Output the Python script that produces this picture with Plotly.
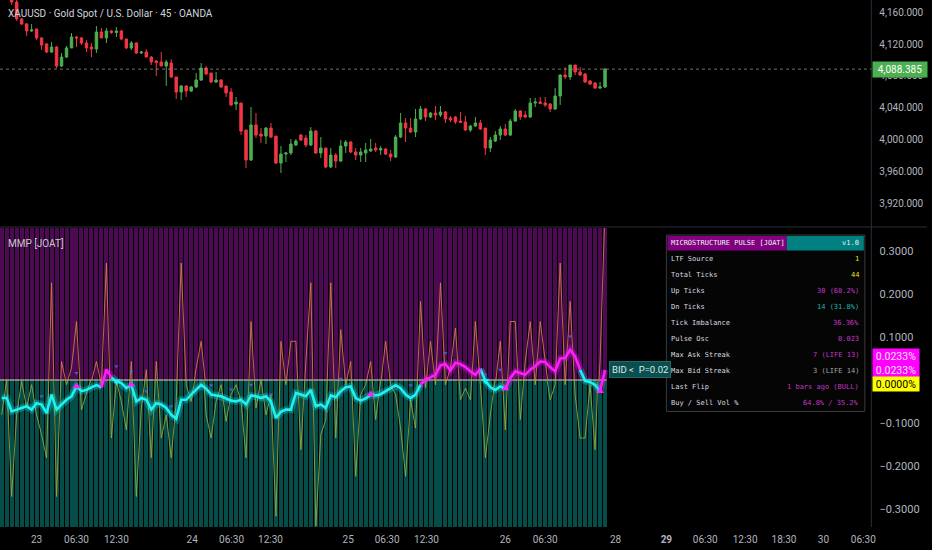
import plotly.graph_objects as go

W, H = 932, 550

# ---- bars (45m XAUUSD, OANDA) ----
bar_idx = list(range(122))
candle_idx = bar_idx[2:]

candle_open = [
    4182.9, 4172.8, 4151.5, 4145.2, 4136.4, 4138.9, 4127.6, 4120.0, 4109.9, 4116.2,
    4092.3, 4103.6, 4115.0, 4128.8, 4127.6, 4121.3, 4116.2, 4113.7, 4135.1, 4127.6,
    4136.4, 4134.5, 4136.4, 4126.3, 4115.0, 4121.3, 4108.7, 4109.9, 4103.6, 4098.6,
    4097.4, 4092.3, 4096.1, 4078.5, 4059.6, 4067.2, 4060.9, 4065.9, 4074.7, 4089.8,
    4083.5, 4072.2, 4074.7, 4067.2, 4059.6, 4044.5, 4045.8, 4011.8, 3974.1, 4018.1,
    4006.8, 4004.2, 4014.3, 4004.2, 3970.3, 3981.6, 3982.9, 3992.9, 4005.5, 4001.7,
    3992.9, 4010.5, 3982.9, 3989.2, 3965.3, 3980.4, 3972.8, 3991.7, 3996.7, 3984.2,
    3980.4, 3982.9, 3985.4, 3989.2, 3986.7, 3987.9, 3981.6, 3977.9, 4003.0, 4020.6,
    4014.3, 4009.3, 4025.7, 4038.3, 4028.2, 4033.2, 4030.7, 4034.5, 4026.9, 4028.2,
    4023.1, 4021.9, 4011.8, 4016.8, 4020.6, 4014.3, 3989.2, 3998.0, 4005.5, 4013.1,
    4005.5, 4023.1, 4035.7, 4030.7, 4028.2, 4045.8, 4047.0, 4045.8, 4044.5, 4038.3,
    4054.6, 4081.0, 4078.5, 4093.6, 4084.8, 4082.3, 4073.5, 4070.9, 4064.6, 4065.9,
]
candle_high = [
    4187.9, 4175.4, 4152.7, 4146.4, 4145.2, 4138.9, 4128.8, 4121.3, 4122.5, 4117.5,
    4108.7, 4117.5, 4133.8, 4130.1, 4128.8, 4125.0, 4121.3, 4142.6, 4140.1, 4140.1,
    4137.6, 4141.4, 4137.6, 4126.3, 4123.8, 4122.5, 4111.2, 4113.7, 4104.9, 4099.9,
    4109.9, 4099.9, 4101.1, 4078.5, 4068.4, 4068.4, 4067.2, 4083.5, 4096.1, 4092.3,
    4083.5, 4084.8, 4076.0, 4067.2, 4064.6, 4053.3, 4045.8, 4011.8, 4040.8, 4033.2,
    4014.3, 4015.6, 4020.6, 4004.2, 3991.7, 3984.2, 4000.5, 4000.5, 4006.8, 4005.5,
    4015.6, 4011.8, 4003.0, 3989.2, 3989.2, 3982.9, 3999.2, 3999.2, 3998.0, 3989.2,
    3989.2, 3995.5, 4000.5, 3995.5, 3991.7, 3989.2, 3986.7, 4005.5, 4033.2, 4026.9,
    4026.9, 4038.3, 4042.0, 4039.5, 4034.5, 4042.0, 4042.0, 4035.7, 4029.4, 4029.4,
    4034.5, 4029.4, 4018.1, 4028.2, 4024.4, 4014.3, 4003.0, 4010.5, 4016.8, 4019.4,
    4025.7, 4038.3, 4037.0, 4035.7, 4052.1, 4052.1, 4053.3, 4053.3, 4045.8, 4064.6,
    4082.0, 4091.1, 4093.6, 4093.6, 4091.1, 4083.5, 4074.7, 4072.2, 4072.2, 4089.8,
]
candle_low = [
    4169.1, 4149.0, 4143.9, 4130.1, 4135.1, 4125.0, 4112.5, 4108.7, 4108.7, 4089.8,
    4091.1, 4102.4, 4115.0, 4116.2, 4118.7, 4109.9, 4103.6, 4108.7, 4127.6, 4121.3,
    4132.6, 4128.8, 4125.0, 4113.7, 4112.5, 4107.4, 4107.4, 4103.6, 4093.6, 4079.7,
    4092.3, 4067.2, 4077.2, 4050.8, 4049.6, 4053.3, 4059.6, 4064.6, 4073.5, 4081.0,
    4070.9, 4070.9, 4064.6, 4053.3, 4042.0, 4037.0, 4005.5, 3964.0, 3972.8, 4001.7,
    3995.5, 3994.2, 4001.7, 3969.1, 3957.7, 3971.6, 3980.4, 3991.7, 3998.0, 3990.4,
    3991.7, 3981.6, 3976.6, 3964.0, 3964.0, 3964.0, 3971.6, 3982.9, 3982.9, 3974.1,
    3971.6, 3971.6, 3984.2, 3984.2, 3980.4, 3980.4, 3972.8, 3976.6, 4001.7, 3996.7,
    4008.0, 4003.0, 4024.4, 4023.1, 4026.9, 4024.4, 4028.2, 4020.6, 4021.9, 4019.4,
    4020.6, 4010.5, 4009.3, 4015.6, 4011.8, 3980.4, 3984.2, 3996.7, 3999.2, 4004.2,
    4004.2, 4021.9, 4024.4, 4026.9, 4026.9, 4040.8, 4044.5, 4040.8, 4034.5, 4037.0,
    4043.3, 4076.0, 4074.7, 4081.0, 4079.7, 4070.9, 4068.4, 4063.4, 4063.4, 4064.6,
]
candle_close = [
    4172.8, 4151.5, 4145.2, 4136.4, 4137.6, 4127.6, 4118.7, 4109.9, 4116.2, 4092.3,
    4103.6, 4115.0, 4128.8, 4127.6, 4121.3, 4115.0, 4113.7, 4135.1, 4127.6, 4136.4,
    4134.5, 4136.4, 4126.3, 4115.0, 4121.3, 4108.7, 4109.9, 4103.6, 4097.4, 4096.7,
    4092.3, 4097.4, 4078.5, 4059.6, 4067.2, 4060.9, 4065.9, 4074.7, 4089.8, 4082.3,
    4072.2, 4074.7, 4065.9, 4058.4, 4043.3, 4047.0, 4010.5, 3974.1, 4018.1, 4005.5,
    4004.2, 4014.3, 4003.0, 3970.3, 3981.6, 3982.9, 3994.2, 3998.0, 3999.2, 3992.9,
    4010.5, 3982.9, 3989.2, 3965.3, 3980.4, 3972.8, 3991.7, 3996.7, 3984.2, 3980.4,
    3984.2, 3986.7, 3987.9, 3986.7, 3988.5, 3981.6, 3977.9, 4003.0, 4020.6, 4014.3,
    4009.3, 4025.7, 4038.3, 4028.2, 4033.2, 4030.7, 4034.5, 4025.7, 4024.4, 4021.9,
    4021.3, 4011.8, 4016.8, 4020.6, 4013.1, 3989.2, 3999.2, 4005.5, 4013.1, 4005.5,
    4023.1, 4035.7, 4028.2, 4028.2, 4045.8, 4047.0, 4045.2, 4043.3, 4038.3, 4054.6,
    4081.0, 4078.5, 4093.6, 4084.8, 4081.0, 4072.2, 4069.7, 4064.6, 4065.9, 4088.385,
]
last_price = 4088.385

# ---- MMP [JOAT] indicator, values in % ----
pulse_osc = [
    -0.042, -0.042, -0.073, -0.069, -0.065, -0.061, -0.069, -0.054, -0.057, -0.077,
    -0.034, -0.069, -0.057, -0.046, -0.038, -0.015, -0.026, -0.023, -0.017, -0.012,
    -0.017, 0.024, 0.006, -0.003, -0.007, -0.019, -0.011, -0.050, -0.042, -0.046,
    -0.069, -0.054, -0.057, -0.065, -0.081, -0.090, -0.046, -0.046, -0.034, -0.023,
    -0.011, -0.020, -0.034, -0.036, -0.038, -0.043, -0.048, -0.050, -0.046, -0.057,
    -0.036, -0.038, -0.042, -0.038, -0.050, -0.088, -0.074, -0.069, -0.069, -0.030,
    -0.034, -0.038, -0.023, -0.061, -0.057, -0.065, -0.036, -0.040, -0.026, -0.017,
    -0.015, -0.042, -0.048, -0.043, -0.034, -0.036, -0.033, -0.026, -0.020, -0.012,
    -0.019, -0.034, -0.042, -0.034, -0.011, 0.001, 0.006, 0.012, 0.034, 0.037,
    0.022, 0.040, 0.037, 0.030, 0.020, 0.012, 0.026, -0.002, -0.017, -0.023,
    -0.015, -0.020, 0.004, 0.020, 0.016, 0.012, 0.024, 0.032, 0.043, 0.042,
    0.030, 0.020, 0.050, 0.051, 0.070, 0.055, 0.024, -0.002, -0.005, -0.011,
    -0.026, 0.0233,
]
tick_raw = [
    -0.081, 0.001, -0.271, -0.081, -0.003, -0.065, -0.011, -0.081, -0.127, -0.181,
    0.226, -0.271, 0.043, -0.011, 0.028, 0.136, -0.069, -0.034, -0.003, 0.043,
    -0.011, 0.272, -0.135, -0.003, -0.050, -0.116, 0.043, -0.271, -0.065, 0.024,
    -0.181, 0.043, -0.135, -0.081, -0.181, -0.050, 0.272, -0.011, -0.050, 0.028,
    0.090, -0.081, -0.135, -0.050, -0.011, -0.096, -0.034, -0.011, -0.050, -0.181,
    0.136, -0.065, 0.001, -0.081, -0.034, -0.317, 0.090, -0.011, 0.090, 0.090,
    -0.162, 0.043, 0.226, -0.340, -0.127, -0.092, 0.226, -0.135, 0.117, -0.011,
    0.043, -0.224, -0.034, -0.011, 0.043, -0.092, -0.011, 0.090, -0.011, -0.034,
    -0.112, -0.224, -0.046, -0.112, 0.183, -0.019, 0.090, -0.011, 0.226, -0.011,
    0.028, 0.121, -0.046, -0.019, -0.046, 0.136, -0.011, -0.181, -0.081, -0.011,
    0.090, -0.116, 0.136, 0.136, -0.092, 0.043, 0.136, -0.011, 0.136, 0.028,
    -0.046, -0.011, 0.272, -0.011, 0.183, -0.034, -0.135, -0.135, -0.011, -0.162,
    0.043, 0.400,
]
flip_up_bars = [15, 26, 74, 101, 120]
flip_dn_bars = [23, 97]
streak_bars = [8, 15, 23, 26, 29, 34, 42, 46, 50, 54, 68, 82, 89, 97, 100, 114]
streak_vals = [-0.038, 0.016, 0.032, 0.019, -0.026, -0.061, -0.012, -0.022, -0.011,
               -0.034, 0.003, -0.012, 0.063, 0.012, 0.024, 0.102]

# ---- axes ----
time_tick_pos = [7.0, 15.0, 23.0, 38.2, 46.1, 53.9, 69.5, 77.3, 85.2, 101.0, 109.0,
                 123.1, 133.3, 141.1, 149.1, 156.9, 164.8, 172.8]
time_tick_text = ["23", "06:30", "12:30", "24", "06:30", "12:30", "25", "06:30", "12:30",
                  "26", "06:30", "28", "<b>29</b>", "06:30", "12:30", "18:30", "30", "06:30"]
price_ticks = [3920, 3960, 4000, 4040, 4080, 4120, 4160]
osc_ticks = [-0.3, -0.2, -0.1, 0.1, 0.2, 0.3]

# ---- info table ----
table_labels = ["LTF Source", "Total Ticks", "Up Ticks", "Dn Ticks", "Tick Imbalance",
                "Pulse Osc", "Max Ask Streak", "Max Bid Streak", "Last Flip", "Buy / Sell Vol %"]
table_values = ["1", "44", "30 (68.2%)", "14 (31.8%)", "36.36%", "0.023",
                "7 (LIFE 13)", "3 (LIFE 14)", "1 bars ago (BULL)", "64.8% / 35.2%"]
table_colors = ["#e6e619", "#e6e619", "#c238c2", "#27b3b3", "#c238c2", "#c238c2",
                "#c238c2", "#a3a3a3", "#c238c2", "#c238c2"]

MAGENTA = "#ff1cff"
CYAN = "#1cf2f2"
TXT = "#b2b5be"
FONT = "Roboto"
MONO = "DejaVu Sans Mono"


def px_x(x):
    return x / W


def px_y(y):
    return 1 - y / H


def runs_by_sign(xs, ys):
    """Split the line into runs; a segment takes the colour of its end point."""
    runs = []
    for i in range(1, len(xs)):
        up = ys[i] > 0
        if runs and runs[-1][0] == up:
            runs[-1][1].append(xs[i])
            runs[-1][2].append(ys[i])
        else:
            runs.append([up, [xs[i - 1], xs[i]], [ys[i - 1], ys[i]]])
    out = {True: ([], []), False: ([], [])}
    for up, rx, ry in runs:
        out[up][0].extend(rx + [None])
        out[up][1].extend(ry + [None])
    return out


x_range = [-0.34, 174.4]
price_range = [3891.1, 4175.35]
osc_top = (380 - 228) / 430
osc_bot = (380 - 527) / 430

fig = go.Figure()

fig.add_trace(go.Candlestick(
    x=candle_idx, open=candle_open, high=candle_high, low=candle_low, close=candle_close,
    increasing=dict(line=dict(color="#4caf50", width=1), fillcolor="#4caf50"),
    decreasing=dict(line=dict(color="#f23645", width=1), fillcolor="#f23645"),
    whiskerwidth=0, xaxis="x", yaxis="y", hoverinfo="skip",
))

# background columns of the oscillator pane
n = len(bar_idx)
fig.add_trace(go.Bar(x=bar_idx, y=[0.4] * n, base=0, width=0.8, marker=dict(color="#4c0a52", line=dict(width=0)),
                     xaxis="x2", yaxis="y2", hoverinfo="skip"))
fig.add_trace(go.Bar(x=bar_idx, y=[-0.4] * n, base=0, width=0.8, marker=dict(color="#064d4a", line=dict(width=0)),
                     xaxis="x2", yaxis="y2", hoverinfo="skip"))
fig.add_trace(go.Scatter(x=[bar_idx[0] - 0.5, bar_idx[-1] + 0.3], y=[0, 0], mode="lines",
                         line=dict(color="rgba(240,240,190,0.9)", width=1.2), xaxis="x2", yaxis="y2", hoverinfo="skip"))

# raw tick line, orange above zero, olive below (clipped by two half panes)
fig.add_trace(go.Scatter(x=bar_idx, y=tick_raw, mode="lines", line=dict(color="rgba(214,128,62,0.85)", width=1),
                         xaxis="x2", yaxis="y3", hoverinfo="skip"))
fig.add_trace(go.Scatter(x=bar_idx, y=tick_raw, mode="lines", line=dict(color="rgba(150,172,58,0.85)", width=1),
                         xaxis="x2", yaxis="y4", hoverinfo="skip"))

# pulse oscillator with glow
runs = runs_by_sign(bar_idx, pulse_osc)
for up, col, glow in [(False, CYAN, "rgba(28,242,242,0.28)"), (True, MAGENTA, "rgba(255,28,255,0.28)")]:
    fig.add_trace(go.Scatter(x=runs[up][0], y=runs[up][1], mode="lines", line=dict(color=glow, width=7),
                             xaxis="x2", yaxis="y5", hoverinfo="skip"))
    fig.add_trace(go.Scatter(x=runs[up][0], y=runs[up][1], mode="lines", line=dict(color=col, width=2.6),
                             xaxis="x2", yaxis="y5", hoverinfo="skip"))

fig.add_trace(go.Scatter(x=streak_bars, y=streak_vals, mode="markers",
                         marker=dict(symbol="triangle-down", size=4, color="rgba(90,100,235,0.75)"),
                         xaxis="x2", yaxis="y5", hoverinfo="skip"))
fig.add_trace(go.Scatter(x=flip_up_bars, y=[pulse_osc[i] for i in flip_up_bars], mode="markers",
                         marker=dict(symbol="triangle-up", size=7, color=MAGENTA),
                         xaxis="x2", yaxis="y5", hoverinfo="skip"))
fig.add_trace(go.Scatter(x=flip_dn_bars, y=[pulse_osc[i] for i in flip_dn_bars], mode="markers",
                         marker=dict(symbol="triangle-down", size=7, color=CYAN),
                         xaxis="x2", yaxis="y5", hoverinfo="skip"))

dom_x = [0, px_x(876)]
price_dom = [px_y(226), 1]
osc_dom = [px_y(527), px_y(228)]
zero_y = px_y(380)
hidden = dict(showticklabels=False, showgrid=False, zeroline=False, ticks="", showline=False)
# invisible ticks push the scale labels away from the pane edge
scale_ticks = dict(ticks="outside", ticklen=5, tickcolor="rgba(0,0,0,0)", showgrid=False, zeroline=False)

fig.update_layout(
    width=W, height=H, autosize=False,
    margin=dict(l=0, r=0, t=0, b=0),
    paper_bgcolor="#000000", plot_bgcolor="rgba(0,0,0,0)",
    showlegend=False, barmode="overlay", bargap=0,
    font=dict(family=FONT, size=10, color=TXT),
    xaxis=dict(domain=dom_x, range=x_range, anchor="y", rangeslider=dict(visible=False), **hidden),
    yaxis=dict(domain=price_dom, range=price_range, anchor="x", side="right", tickvals=price_ticks,
               tickformat=",.3f", tickfont=dict(size=10, color=TXT), **scale_ticks),
    xaxis2=dict(domain=dom_x, range=x_range, anchor="y2", tickvals=time_tick_pos, ticktext=time_tick_text,
                showgrid=False, zeroline=False, ticks="outside", ticklen=3, tickcolor="rgba(0,0,0,0)",
                showline=False, tickfont=dict(size=10, color=TXT)),
    yaxis2=dict(domain=osc_dom, range=[osc_bot, osc_top], anchor="x2", side="right", tickvals=osc_ticks,
                tickformat=".4f", ticksuffix="%", tickfont=dict(size=11, color=TXT), **scale_ticks),
    yaxis3=dict(domain=[zero_y, osc_dom[1]], range=[0, osc_top], anchor="x2", **hidden),
    yaxis4=dict(domain=[osc_dom[0], zero_y], range=[osc_bot, 0], anchor="x2", **hidden),
    yaxis5=dict(domain=osc_dom, range=[osc_bot, osc_top], anchor="x2", **hidden),
)

shapes = [
    dict(type="line", xref="paper", yref="paper", x0=0, x1=1, y0=px_y(227), y1=px_y(227),
         line=dict(color="#2a2e39", width=1)),
    dict(type="line", xref="paper", yref="paper", x0=px_x(876), x1=px_x(876), y0=px_y(527), y1=1,
         line=dict(color="#2a2e39", width=1)),
    dict(type="line", xref="x domain", yref="y", x0=0, x1=1, y0=last_price, y1=last_price,
         line=dict(color="rgba(160,160,160,0.7)", width=1, dash="dot")),
    # info table
    dict(type="rect", xref="paper", yref="paper", x0=px_x(670), x1=px_x(869.5), y0=px_y(411.5), y1=px_y(235),
         fillcolor="#050505", line=dict(color="#3a3a3a", width=1)),
    dict(type="rect", xref="paper", yref="paper", x0=px_x(671), x1=px_x(791), y0=px_y(250.5), y1=px_y(236),
         fillcolor="#800080", line=dict(width=0)),
    dict(type="rect", xref="paper", yref="paper", x0=px_x(791), x1=px_x(868.5), y0=px_y(250.5), y1=px_y(236),
         fillcolor="#008080", line=dict(width=0)),
]

ann = [
    dict(text="XAUUSD · Gold Spot / U.S. Dollar · 45 · OANDA", x=px_x(6), y=px_y(13),
         font=dict(size=10, color="#d1d4dc")),
    dict(text="MMP [JOAT]", x=px_x(6), y=px_y(243), font=dict(size=10, color="#c8c8cc")),
    dict(text="MICROSTRUCTURE PULSE [JOAT]", x=px_x(673), y=px_y(243.3),
         font=dict(family=MONO, size=7, color="#f0f0f0")),
    dict(text="v1.0", x=px_x(866), y=px_y(243.3), xanchor="right", font=dict(family=MONO, size=7, color="#f0f0f0")),
]
for i, (lab, val, col) in enumerate(zip(table_labels, table_values, table_colors)):
    yy = px_y(259 + 16 * i)
    ann.append(dict(text=lab, x=px_x(673), y=yy, font=dict(family=MONO, size=7, color="#dcdce0")))
    ann.append(dict(text=val, x=px_x(866), y=yy, xanchor="right", font=dict(family=MONO, size=7, color=col)))

# price-scale labels
ann.append(dict(text=f"{last_price:,.3f}", x=px_x(877), y=last_price, yref="y", xanchor="left",
                bgcolor="#4caf50", width=52, height=13, font=dict(size=10, color="#ffffff")))
last_osc = pulse_osc[-1]
for shift in (13.5, 0):
    ann.append(dict(text=f"{last_osc:.4f}%", x=px_x(877), y=last_osc, yref="y2", yshift=shift, xanchor="left",
                    bgcolor="#ff00ff", width=44, height=12, font=dict(size=10.5, color="#fbe3fb")))
ann.append(dict(text="0.0000%", x=px_x(877), y=0, yref="y2", yshift=-4, xanchor="left",
                bgcolor="#ffff00", width=44, height=12, font=dict(size=10.5, color="#000000")))
ann.append(dict(text="BID &lt;  P=0.02", x=bar_idx[-1] + 0.8, y=last_osc, xref="x2", yref="y2", xanchor="left",
                bgcolor="#0c4e4e", bordercolor="#1d6a6a", borderpad=2, font=dict(size=9.5, color="#d4ecec")))

for a in ann:
    a.setdefault("xref", "paper")
    a.setdefault("yref", "paper")
    a.setdefault("xanchor", "left")
    a.setdefault("yanchor", "middle")
    a["showarrow"] = False

fig.update_layout(shapes=shapes, annotations=ann)
fig.write_html("out.html", config={"displayModeBar": False},
               post_script="document.body.style.margin='0';")
